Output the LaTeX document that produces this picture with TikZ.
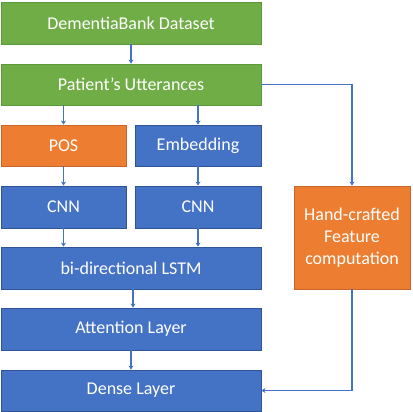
\documentclass[tikz,border=0pt]{standalone}
\usepackage{fontspec}
\setmainfont{Carlito}
\usetikzlibrary{arrows.meta,calc}
\definecolor{cgreen}{HTML}{70AD47}
\definecolor{cgreenb}{HTML}{5A9A3A}
\definecolor{corange}{HTML}{ED7D31}
\definecolor{corangeb}{HTML}{C8652A}
\definecolor{cblue}{HTML}{4472C4}
\definecolor{cblueb}{HTML}{2F5597}
\begin{document}
\begin{tikzpicture}[x=1pt,y=-1pt,
  box/.style={draw, line width=0.8pt, text=white, font=\fontsize{18}{22}\selectfont, inner sep=0pt, align=center},
  gbox/.style={box, fill=cgreen, draw=cgreenb},
  obox/.style={box, fill=corange, draw=corangeb},
  bbox/.style={box, fill=cblue, draw=cblueb},
  conn/.style={draw=cblue, line width=1.3pt, -{Stealth[length=4pt,width=5pt]}}
]
\useasboundingbox (0,0) rectangle (412,412);
\node[gbox, minimum width=260pt, minimum height=42pt] (db) at (131,23) {DementiaBank Dataset};
\node[gbox, minimum width=260pt, minimum height=41pt] (pu) at (131,84.5) {Patient’s Utterances};
\node[obox, minimum width=125pt, minimum height=41pt] (pos) at (63.5,145.5) {POS};
\node[bbox, minimum width=126pt, minimum height=41pt] (emb) at (198,145.5) {Embedding};
\node[bbox, minimum width=125pt, minimum height=42pt] (cnna) at (63.5,207) {CNN};
\node[bbox, minimum width=126pt, minimum height=42pt] (cnnb) at (198,207) {CNN};
\node[bbox, minimum width=260pt, minimum height=42pt] (lstm) at (131,268) {bi-directional LSTM};
\node[bbox, minimum width=260pt, minimum height=42pt] (att) at (131,329) {Attention Layer};
\node[bbox, minimum width=260pt, minimum height=41pt] (dense) at (131,390.5) {Dense Layer};
\node[obox, minimum width=116pt, minimum height=103pt] (hand) at (352,237.5) {Hand-crafted\\Feature\\computation};
\draw[conn] (db.south) -- (pu.north);
\draw[conn] (pu.south -| pos.north) -- (pos.north);
\draw[conn] (pu.south -| emb.north) -- (emb.north);
\draw[conn] (pos.south) -- (cnna.north);
\draw[conn] (emb.south) -- (cnnb.north);
\draw[conn] (cnna.south) -- (lstm.north -| cnna.south);
\draw[conn] (cnnb.south) -- (lstm.north -| cnnb.south);
\draw[conn] ([xshift=2pt]lstm.south) -- ([xshift=2pt]att.north);
\draw[conn] (att.south) -- (dense.north);
\draw[conn] (pu.east) -| (hand.north);
\draw[conn] (hand.south) |- (dense.east);
\end{tikzpicture}
\end{document}
